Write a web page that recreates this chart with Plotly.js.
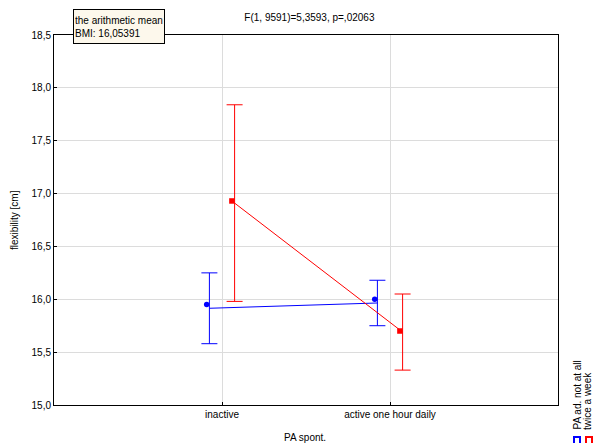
<!DOCTYPE html>
<html>
<head>
<meta charset="utf-8">
<script src="https://cdn.plot.ly/plotly-3.0.1.min.js"></script>
<style>html,body{margin:0;padding:0;background:#fff;}#chart{width:595px;height:446px;}</style>
</head>
<body>
<div id="chart"></div>
<script>
// ---- data ----
const categories = ['inactive', 'active one hour daily'];
const seriesNames = ['PA ad. not at all', 'twice a week'];
const blueMean = [15.95, 16.00];
const blueUpper = [16.25, 16.18];
const blueLower = [15.58, 15.75];
const redMean = [16.93, 15.70];
const redUpper = [17.84, 16.05];
const redLower = [15.98, 15.33];
const yTicks = [15.0, 15.5, 16.0, 16.5, 17.0, 17.5, 18.0, 18.5];
const titleText = 'F(1, 9591)=5,3593, p=,02063';
const boxText = 'the arithmetic mean<br>BMI: 16,05391';

// ---- layout helpers ----
const W = 595, H = 446, L = 54, R = 558, T = 35, B = 405;
const px2x = p => (p - L) / (R - L);
const px2y = p => (B - p) / (B - T);
const idx = categories.map((c, i) => i);
const centre = (u, l) => u.map((v, i) => (v + l[i]) / 2);

function seriesTraces(mean, upper, lower, color, off, symbol, name) {
  const c = centre(upper, lower);
  const xs = idx.map(i => i + off);
  return [
    {
      x: xs, y: c, type: 'scatter', mode: 'lines', name: name,
      line: {color: color, width: 1},
      error_y: {type: 'data', symmetric: false,
        array: upper.map((v, i) => v - c[i]),
        arrayminus: lower.map((v, i) => c[i] - v),
        color: color, thickness: 1, width: 8},
      hoverinfo: 'skip', showlegend: false
    },
    {
      x: xs.map(v => v - 0.016), y: mean, type: 'scatter', mode: 'markers',
      marker: {color: color, size: 5.5, symbol: symbol},
      showlegend: false
    }
  ];
}

const data = [
  ...seriesTraces(blueMean, blueUpper, blueLower, 'rgb(0,0,255)', -0.075, 'circle', seriesNames[0]),
  ...seriesTraces(redMean, redUpper, redLower, 'rgb(255,0,0)', 0.075, 'square', seriesNames[1])
];

const font = {family: 'Liberation Sans, Arial, sans-serif', size: 10, color: '#000'};

const layout = {
  width: W, height: H,
  margin: {l: L, r: W - R, t: T, b: H - B, pad: 0},
  paper_bgcolor: '#fff', plot_bgcolor: '#fff',
  font: font,
  separators: ',.',
  showlegend: false,
  title: {text: titleText, font: font, x: 0.52, xanchor: 'center',
          y: 1 - 17 / H, yanchor: 'middle', yref: 'container', xref: 'container'},
  xaxis: {
    range: [-1, 2], tickvals: idx, ticktext: categories,
    showgrid: true, gridcolor: '#dcdcdc', gridwidth: 1,
    showline: true, mirror: true, linecolor: '#000', linewidth: 1,
    ticks: 'inside', ticklen: 3, tickcolor: '#000', zeroline: false,
    tickfont: font
  },
  yaxis: {
    range: [15.0, 18.5], tickvals: yTicks, tickformat: '.1f',
    showgrid: true, gridcolor: '#dcdcdc', gridwidth: 1,
    showline: true, mirror: true, linecolor: '#000', linewidth: 1,
    ticks: 'inside', ticklen: 3, tickcolor: '#000', zeroline: false,
    tickfont: font
  },
  annotations: [
    {text: boxText, xref: 'paper', yref: 'paper', x: px2x(73), y: px2y(9),
     xanchor: 'left', yanchor: 'top', align: 'left', showarrow: false,
     bgcolor: '#fdf8ec', bordercolor: '#000', borderwidth: 1, borderpad: 1,
     width: 88, height: 31, valign: 'middle', font: font},
    {text: 'flexibility [cm]', xref: 'paper', yref: 'paper', x: px2x(14), y: 0.5,
     textangle: -90, showarrow: false, font: font, xanchor: 'center', yanchor: 'middle'},
    {text: 'PA spont.', xref: 'paper', yref: 'paper', x: px2x(305), y: px2y(437),
     showarrow: false, font: font, xanchor: 'center', yanchor: 'middle'},
    {text: seriesNames[0], xref: 'paper', yref: 'paper', x: px2x(577), y: px2y(432),
     textangle: -90, showarrow: false, font: font, xanchor: 'center', yanchor: 'bottom'},
    {text: seriesNames[1], xref: 'paper', yref: 'paper', x: px2x(588), y: px2y(432),
     textangle: -90, showarrow: false, font: font, xanchor: 'center', yanchor: 'bottom'}
  ],
  shapes: [
    {type: 'rect', xref: 'paper', yref: 'paper', x0: px2x(573), x1: px2x(581), y0: px2y(443), y1: px2y(436),
     fillcolor: 'rgb(0,0,255)', line: {width: 0}},
    {type: 'rect', xref: 'paper', yref: 'paper', x0: px2x(575), x1: px2x(579), y0: px2y(443), y1: px2y(438),
     fillcolor: '#fff', line: {width: 0}},
    {type: 'rect', xref: 'paper', yref: 'paper', x0: px2x(585), x1: px2x(593), y0: px2y(443), y1: px2y(436),
     fillcolor: 'rgb(255,0,0)', line: {width: 0}},
    {type: 'rect', xref: 'paper', yref: 'paper', x0: px2x(587), x1: px2x(591), y0: px2y(443), y1: px2y(438),
     fillcolor: '#fff', line: {width: 0}}
  ]
};

Plotly.newPlot('chart', data, layout, {displayModeBar: false, staticPlot: true});
</script>
</body>
</html>
